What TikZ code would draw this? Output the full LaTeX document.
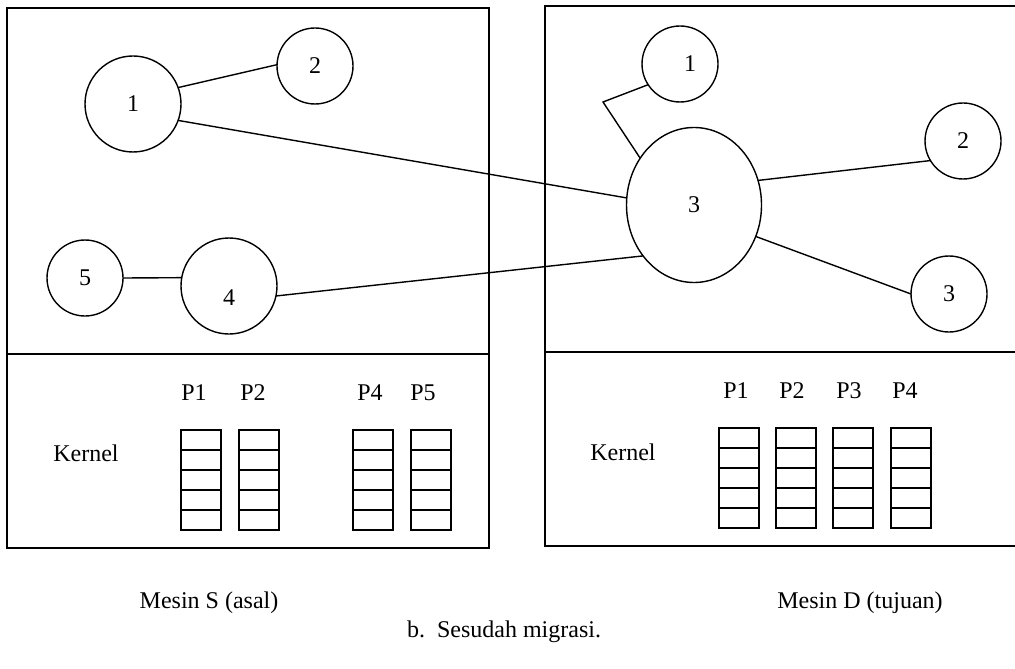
\documentclass[tikz,border=0pt]{standalone}
\usepackage{fontspec}
\setmainfont{Liberation Serif}
\usetikzlibrary{positioning,shapes.geometric}

\begin{document}
\begin{tikzpicture}[x=0.5pt, y=-0.5pt, font=\fontsize{12}{14}\selectfont,
    proc/.style={circle, draw, line width=0.7pt, minimum size=38pt, inner sep=0pt, outer sep=0pt},
    bigproc/.style={proc, minimum size=48pt},
    cell/.style={rectangle, draw, line width=0.8pt, minimum width=20pt, minimum height=10pt, inner sep=0pt, outer sep=0pt},
    link/.style={line width=0.7pt}]
        \clip (0,0) rectangle (1015,668);

        % the two machines
        \draw[line width=0.9pt] (7,8) rectangle (489,548);
        \draw[line width=0.9pt] (7,354) -- (489,354);
        \draw[line width=0.9pt] (545,6) rectangle (1022,546);
        \draw[line width=0.9pt] (545,352) -- (1022,352);

        % processes on S
        \node[bigproc] (s1) at (133,104) {1};
        \node[proc] (s2) at (315,66) {2};
        \node[proc] (s5) at (85,278) {5};
        \node[bigproc, label={[yshift=-6pt]center:4}] (s4) at (229,286) {};

        % processes on D
        \node[proc, label={[xshift=5pt]center:1}] (d1) at (680,64) {};
        \node[ellipse, draw, line width=0.7pt, minimum width=67.5pt, minimum height=77.5pt, inner sep=0pt, outer sep=0pt] (d3) at (694,205) {3};
        \node[proc] (d2) at (963,141) {2};
        \node[proc] (d3b) at (949,294) {3};
        \coordinate (bend) at (603,102);

        \draw[link] (s1.20) -- (s2.178);
        \draw[link] (s1.-20) -- (d3.174);
        \draw[link] (s5.east) -- (s4.170);
        \draw[link] (s4.-12) -- (d3.225);
        \draw[link] (d1.213) -- (bend) -- (d3.139);
        \draw[link] (d3.21) -- (d2.211);
        \draw[link] (d3.-27) -- (d3b.west);

        % kernel tables
        \node (ks) at (86,453) {Kernel};
        \node (kd) at (623,452) {Kernel};
        \foreach \nm/\x in {sp1/201, sp2/259, sp4/373, sp5/431} {
          \foreach \i in {0,...,4}
            \node[cell] (\nm-\i) at (\x, 440+\i*20) {};
        }
        \foreach \nm/\x in {dp1/739, dp2/796, dp3/853, dp4/911} {
          \foreach \i in {0,...,4}
            \node[cell] (\nm-\i) at (\x, 438+\i*20) {};
        }
        \node (lsp1) at (194,393) {P1};
        \node (lsp2) at (253,393) {P2};
        \node (lsp4) at (370,393) {P4};
        \node (lsp5) at (423,393) {P5};
        \node (ldp1) at (736,391) {P1};
        \node (ldp2) at (792,391) {P2};
        \node (ldp3) at (849,391) {P3};
        \node (ldp4) at (905,391) {P4};

        % captions
        \node (ms) at (209,603) {Mesin S (asal)};
        \node (md) at (860,603) {Mesin D (tujuan)};
        \node (cap) at (504,632) {b.\ \ Sesudah migrasi.};
      \end{tikzpicture}
\end{document}
